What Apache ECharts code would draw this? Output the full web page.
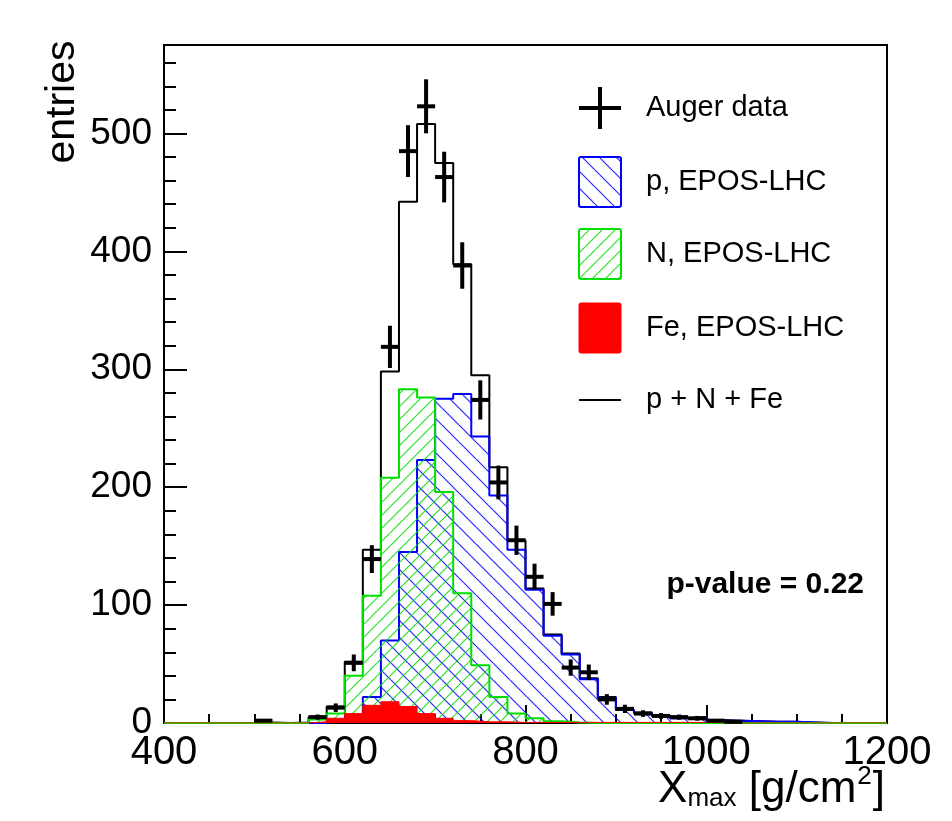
<!DOCTYPE html>
<html><head><meta charset="utf-8">
<script src="https://cdn.jsdelivr.net/npm/echarts@6/dist/echarts.min.js"></script>
<style>html,body{margin:0;padding:0;background:#fff}#c{width:952px;height:821px}</style>
</head><body><div id="c"></div>
<script>
// ---- data ----
const binCenters = [410,430,450,470,490,510,530,550,570,590,610,630,650,670,690,710,730,750,770,790,810,830,850,870,890,910,930,950,970,990,1010,1030,1050,1070,1090,1110,1130,1150,1170,1190];
const pEpos  = [0,0,0,0,0,0,0,0,0,2,4,22,70,145,223,275,279,243,193,147,113,74,58,37,21,11,8,6,4,4,2,2,1.5,1,1,0.5,0,0,0,0];
const nEpos  = [0,0,0,0,0,0,0,0,3,8,40,108,208,283,276,196,110,49,22,8,4,1.5,0.5,0,0,0,0,0,0,0,0,0,0,0,0,0,0,0,0,0];
const feEpos = [0,0,0,0,0,0,0,0,1,4,8,15,18,14,8,4,2,1,1,0.5,0.5,0.5,0.5,0.5,0.5,0.5,0.5,0.5,0.5,0.5,0,0,0,0,0,0,0,0,0,0];
const total  = [0,0,0,0,0,0.5,0,0.5,5,14,52,147,298,442,508,475,389,295,217,155,114,75,59,38,22,11,9,6,4,5,2.5,2,1.5,1,1,0.5,0,0,0,0];
const augerX   = [510,570,590,610,630,650,670,690,710,730,750,770,790,810,830,850,870,890,910,930,950,970,990,1010,1030];
const augerY   = [2,5,13,51,139,319,485,523,463,388,274,204,155,124,101,47,43,20,12,8,6,5,4,2,1];
const augerErr = [1.4,2.2,3.6,7.1,11.8,17.9,22,22.9,21.5,19.7,16.6,14.3,12.4,11.1,10,6.9,6.6,4.5,3.5,2.8,2.4,2.2,2,1.4,1];
const xTicks = [400,600,800,1000,1200];
const yTicks = [0,100,200,300,400,500];
const legendLabels = ['Auger data','p, EPOS-LHC','N, EPOS-LHC','Fe, EPOS-LHC','p + N + Fe'];
const pValueText = 'p-value = 0.22';

const binHalf = 10, xMin = 400, xMax = 1200, yMax = 575;
const FONT = 'Liberation Sans, Arial, Helvetica, sans-serif';

function hatch(color, size, dir, lw){
  const c = document.createElement('canvas'); c.width = size; c.height = size;
  const g = c.getContext('2d'); g.strokeStyle = color; g.lineWidth = lw;
  g.beginPath();
  for (let k = -1; k <= 1; k++){
    if (dir === 'back'){ g.moveTo(k*size, 0); g.lineTo(k*size+size, size); }
    else { g.moveTo(k*size, size); g.lineTo(k*size+size, 0); }
  }
  g.stroke();
  return c;
}
const blueHatch = hatch('rgba(0,0,255,0.85)', 17, 'back', 1.2);
const greenHatch = hatch('rgba(0,220,0,0.85)', 13, 'fwd', 1.2);

function stepData(vals){
  const d = [[xMin, 0]];
  binCenters.forEach((c,i)=> d.push([c - binHalf, vals[i]]));
  d.push([xMax, 0]);
  return d;
}

const chart = echarts.init(document.getElementById('c'), null, {renderer:'canvas'});

// legend graphics
const lx0 = 579, lx1 = 621, ltx = 646;
const rows = [108, 182, 254, 328, 400];
const graphics = [];
graphics.push({type:'line', shape:{x1:lx0, y1:rows[0], x2:lx1, y2:rows[0]}, style:{stroke:'#000', lineWidth:4}});
graphics.push({type:'line', shape:{x1:(lx0+lx1)/2, y1:rows[0]-21, x2:(lx0+lx1)/2, y2:rows[0]+21}, style:{stroke:'#000', lineWidth:4}});
graphics.push({type:'rect', shape:{x:lx0, y:rows[1]-25, width:lx1-lx0, height:50, r:2}, style:{fill:{image:blueHatch, repeat:'repeat'}, stroke:'#0000ff', lineWidth:2}});
graphics.push({type:'rect', shape:{x:lx0, y:rows[2]-25, width:lx1-lx0, height:50, r:2}, style:{fill:{image:greenHatch, repeat:'repeat'}, stroke:'#00e000', lineWidth:2}});
graphics.push({type:'rect', shape:{x:lx0, y:rows[3]-25, width:lx1-lx0, height:50, r:2}, style:{fill:'#ff0000', stroke:'#ff0000', lineWidth:1}});
graphics.push({type:'line', shape:{x1:lx0, y1:rows[4], x2:lx1, y2:rows[4]}, style:{stroke:'#000', lineWidth:2}});
legendLabels.forEach((t,i)=> graphics.push({type:'text', x:ltx, y:rows[i], style:{text:t, fontSize:29, fontFamily:FONT, fill:'#000', align:'left', verticalAlign:'middle'}}));
graphics.push({type:'text', x:864, y:585, style:{text:pValueText, fontSize:30, fontWeight:'bold', fontFamily:FONT, fill:'#000', align:'right', verticalAlign:'middle'}});
// axis titles
graphics.push({type:'text', x:63, y:102, rotation:Math.PI/2, style:{text:'entries', fontSize:41, fontFamily:FONT, fill:'#000', align:'center', verticalAlign:'middle'}});
graphics.push({type:'text', x:885, y:812, style:{
  text:'{x|X}{sub|max}{x| [g/cm}{sup|2}{x|]}', fontFamily:FONT, fill:'#000', align:'right', verticalAlign:'bottom',
  rich:{ x:{fontSize:44, fontFamily:FONT, verticalAlign:'bottom'},
         sub:{fontSize:26, fontFamily:FONT, verticalAlign:'bottom'},
         sup:{fontSize:26, fontFamily:FONT, verticalAlign:'bottom', padding:[0,1,22,1]} }
}});

const option = {
  animation:false,
  backgroundColor:'#fff',
  grid:{left:164, top:45, right:65, bottom:98, show:true, borderColor:'#000', borderWidth:2, backgroundColor:'transparent'},
  xAxis:{type:'value', min:xMin, max:xMax, interval:200,
    axisLine:{show:true, onZero:false, lineStyle:{color:'#000', width:2}},
    axisTick:{show:true, inside:true, length:18, lineStyle:{color:'#000', width:2}},
    minorTick:{show:true, splitNumber:4, length:9, lineStyle:{color:'#000', width:2}},
    splitLine:{show:false}, minorSplitLine:{show:false},
    axisLabel:{color:'#000', fontSize:40, fontFamily:FONT, margin:10,
      formatter:(v)=> xTicks.includes(v) ? String(v) : ''}
  },
  yAxis:{type:'value', min:0, max:yMax, interval:100,
    axisLine:{show:true, lineStyle:{color:'#000', width:2}},
    axisTick:{show:true, inside:true, length:23, lineStyle:{color:'#000', width:2}},
    minorTick:{show:true, splitNumber:5, length:12, lineStyle:{color:'#000', width:2}},
    splitLine:{show:false}, minorSplitLine:{show:false},
    axisLabel:{color:'#000', fontSize:37, fontFamily:FONT, margin:12,
      formatter:(v)=> yTicks.includes(v) ? String(v) : ''}
  },
  graphic: graphics,
  series:[
    {name:'p + N + Fe', type:'line', step:'end', data:stepData(total), showSymbol:false, z:2,
     lineStyle:{color:'#000', width:2}},
    {name:'p, EPOS-LHC', type:'line', step:'end', data:stepData(pEpos), showSymbol:false, z:3,
     lineStyle:{color:'#0000ff', width:2}, areaStyle:{color:{image:blueHatch, repeat:'repeat'}, opacity:1}},
    {name:'N, EPOS-LHC', type:'line', step:'end', data:stepData(nEpos), showSymbol:false, z:4,
     lineStyle:{color:'#00e000', width:2}, areaStyle:{color:{image:greenHatch, repeat:'repeat'}, opacity:1}},
    {name:'Fe, EPOS-LHC', type:'line', step:'end', data:stepData(feEpos), showSymbol:false, z:5,
     lineStyle:{color:'#ff0000', width:1}, areaStyle:{color:'#ff0000', opacity:1}},
    {name:'Auger data', type:'custom', z:10,
     data: augerX.map((x,i)=>[x, augerY[i], augerErr[i]]),
     encode:{x:0, y:1},
     renderItem:(params, api)=>{
       const x = api.value(0), y = api.value(1), e = api.value(2);
       const pL = api.coord([x-binHalf, y]), pR = api.coord([x+binHalf, y]);
       const pT = api.coord([x, y+e]), pB = api.coord([x, y-e]);
       return {type:'group', children:[
         {type:'line', shape:{x1:pL[0], y1:pL[1], x2:pR[0], y2:pR[1]}, style:{stroke:'#000', lineWidth:4}},
         {type:'line', shape:{x1:pT[0], y1:Math.min(pT[1], pL[1]-1.5), x2:pB[0], y2:Math.max(pB[1], pL[1]+1.5)}, style:{stroke:'#000', lineWidth:4}}
       ]};
     }}
  ]
};
chart.setOption(option);
</script></body></html>
